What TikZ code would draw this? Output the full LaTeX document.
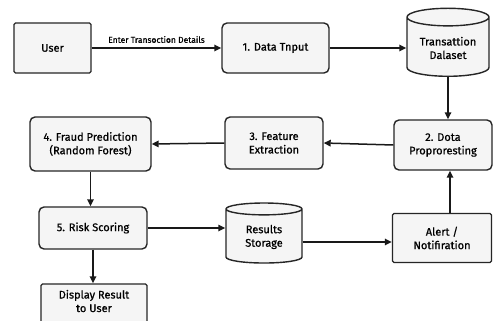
\documentclass[tikz,border=0pt]{standalone}
\usepackage{fontspec}
\setmainfont{Fira Sans}[FakeBold=0.8]
\usetikzlibrary{shapes.geometric,arrows.meta}
\tikzset{
  base/.style={draw=black!85, line width=1.4pt, fill=black!4, align=center, font=\fontsize{11}{13.5}\selectfont, inner sep=1pt},
  rbox/.style={base, rectangle, rounded corners=5pt},
  sbox/.style={base, rectangle, rounded corners=1.5pt},
  cyl/.style={base, cylinder, shape border rotate=90, aspect=0.3},
  flow/.style={draw=black!90, line width=1.5pt, -{Triangle[length=7pt,width=6.5pt]}},
}
\begin{document}
\begin{tikzpicture}[x=1pt,y=-1pt]
\useasboundingbox[fill=white] (0,0) rectangle (493,321);
\node[sbox, minimum width=77pt, minimum height=50pt] (user) at (52.5,48) {User};
\node[rbox, minimum width=107pt, minimum height=50pt] (inp) at (275.5,48) {1. Data Tnput};
\node[cyl, minimum width=82pt, minimum height=68pt] (ds) at (448,48) {Transattion\\Dalaset};
\node[rbox, minimum width=98pt, minimum height=50pt] (pre) at (443,145) {2. Dota\\Proproresting};
\node[rbox, minimum width=98pt, minimum height=52pt] (fe) at (274,143) {3. Feature\\Extraction};
\node[rbox, minimum width=121pt, minimum height=54pt] (fp) at (90.5,144) {4. Fraud Prediction\\(Random Forest)};
\node[rbox, minimum width=108pt, minimum height=42pt] (rs) at (93,228) {5. Risk Scoring};
\node[cyl, minimum width=76pt, minimum height=60pt] (st) at (264,237) {Results\\Storage};
\node[sbox, minimum width=99pt, minimum height=49pt] (al) at (442,238) {Alert /\\Notifiration};
\node[sbox, minimum width=106pt, minimum height=44pt, text depth=10pt] (disp) at (94,306) {Display Result\\to User};

\draw[flow] (user.east) -- node[above=1pt, font=\fontsize{8.5}{10}\selectfont] (lbl) {Enter Transoction Details} (inp.west);
\draw[flow] (inp.east) -- (inp.east -| ds.west);
\draw[flow] (ds.bottom) -- (ds.bottom |- pre.north);
\draw[flow] (pre.west) -- (fe.east);
\draw[flow] (fe.west) -- (fp.east);
\draw[flow] (fp.south) -- (fp.south |- rs.north);
\draw[flow] (rs.east) -- (rs.east -| st.west);
\draw[flow] ([yshift=-5pt]st.east) -- ([yshift=-5pt]st.east -| al.west);
\draw[flow] ([xshift=8pt]al.north) -- ([xshift=8pt]al.north |- pre.south);
\draw[flow] (rs.south) -- (rs.south |- disp.north);
\end{tikzpicture}
\end{document}
